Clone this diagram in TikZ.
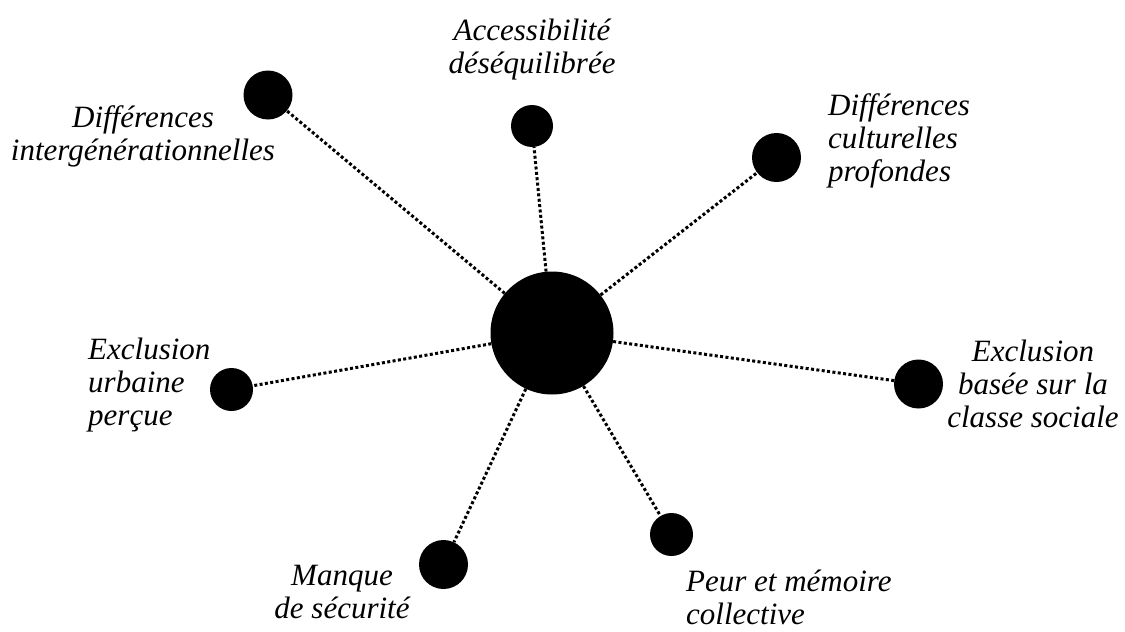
\documentclass[tikz,border=0pt]{standalone}
\usepackage{fontspec}
\setmainfont{Liberation Serif}
\usetikzlibrary{positioning}

\begin{document}
\begin{tikzpicture}[
    x=1pt, y=-1pt,
    every node/.style={font=\fontsize{31}{33}\selectfont\itshape},
    hub/.style={circle, fill=black, inner sep=0pt, minimum size=123pt},
    pastille/.style={circle, fill=black, inner sep=0pt, minimum size=#1},
    pastille/.default=49pt,
    tag/.style={inner sep=0pt, align=center},
    tagleft/.style={inner sep=0pt, align=left},
    link/.style={line width=3pt, dash pattern=on 3pt off 2.4pt}
]
\useasboundingbox (0,0) rectangle (1125,632);

% Noeuds
\node[hub] (centre) at (552,333) {};
\node[pastille] (inter) at (268,95) {};
\node[pastille=42pt] (acces) at (532,126) {};
\node[pastille] (culture) at (776.5,157.5) {};
\node[pastille] (classe) at (918.5,384) {};
\node[pastille=43pt] (peur) at (671.5,534.5) {};
\node[pastille] (securite) at (443.5,564.5) {};
\node[pastille=43pt] (urbaine) at (231.5,389.5) {};

% Textes
\node[tag, anchor=north] (interlbl) at (143,105) {Différences\\intergénérationnelles};
\node[tag, anchor=north] (acceslbl) at (532,19) {Accessibilité\\déséquilibrée};
\node[tagleft, anchor=north west] (culturelbl) at (828,93) {Différences\\culturelles\\profondes};
\node[tag, anchor=north] (classelbl) at (1033,340) {Exclusion\\basée sur la\\classe sociale};
\node[tagleft, anchor=north west] (urbainelbl) at (88,338) {Exclusion\\urbaine\\perçue};
\node[tag, anchor=north] (securitelbl) at (342,565) {Manque\\de sécurité};
\node[tagleft, anchor=north west] (peurlbl) at (686,570) {Peur et mémoire\\collective};

% Liens
\foreach \n in {inter, acces, culture, classe, peur, securite, urbaine}
    \draw[link] (centre) -- (\n);

\end{tikzpicture}
\end{document}
